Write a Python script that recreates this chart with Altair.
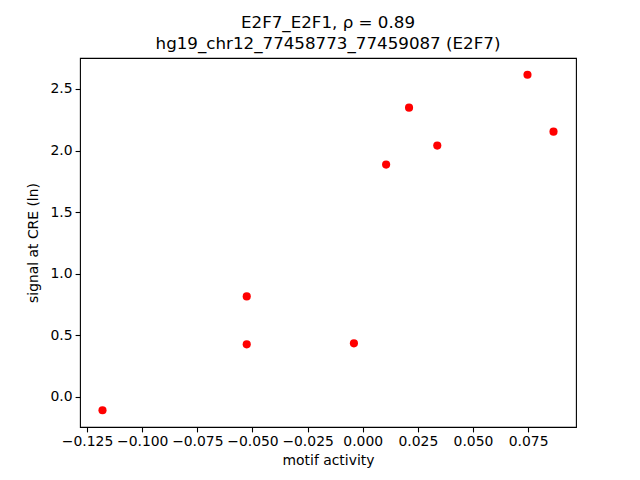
import altair as alt
import pandas as pd

motif_activity = [-0.118, -0.0526, -0.0526, -0.0040, 0.0106, 0.0210, 0.0338, 0.0747, 0.0865]
signal = [-0.108, 0.816, 0.427, 0.435, 1.886, 2.348, 2.040, 2.615, 2.153]
x_ticks = [-0.125, -0.100, -0.075, -0.050, -0.025, 0.000, 0.025, 0.050, 0.075]
y_ticks = [0.0, 0.5, 1.0, 1.5, 2.0, 2.5]

df = pd.DataFrame({"x": motif_activity, "y": signal})

FONT = "DejaVu Sans"

chart = alt.Chart(df).mark_point(filled=True, color="#ff0000", opacity=1, size=66).encode(
    x=alt.X("x:Q", scale=alt.Scale(domain=[-0.1282, 0.0967], nice=False, zero=False),
            axis=alt.Axis(values=x_ticks, format=".3f", title="motif activity")),
    y=alt.Y("y:Q", scale=alt.Scale(domain=[-0.244, 2.751], nice=False, zero=False),
            axis=alt.Axis(values=y_ticks, format=".1f", title="signal at CRE (ln)")),
).properties(
    width=496, height=369,
    title=alt.Title(["E2F7_E2F1, ρ = 0.89", "hg19_chr12_77458773_77459087 (E2F7)"],
                    font=FONT, fontSize=16.7, fontWeight="normal", color="black",
                    anchor="middle", offset=5, lineHeight=21),
    autosize=alt.AutoSizeParams(type="none"),
    padding={"left": 72, "top": 50, "right": 56, "bottom": 44},
).configure_view(stroke="black", strokeWidth=1.1).configure_axis(
    grid=False, domain=False, tickColor="black", tickSize=4.9, tickWidth=1.1,
    labelColor="black", labelFont=FONT, labelFontSize=13.9, labelPadding=3,
    titleFont=FONT, titleFontSize=13.9, titleFontWeight="normal", titleColor="black",
).configure_axisX(titlePadding=5).configure_axisY(titlePadding=10)

chart.save("out.html", embed_options={"renderer": "svg", "actions": False})
